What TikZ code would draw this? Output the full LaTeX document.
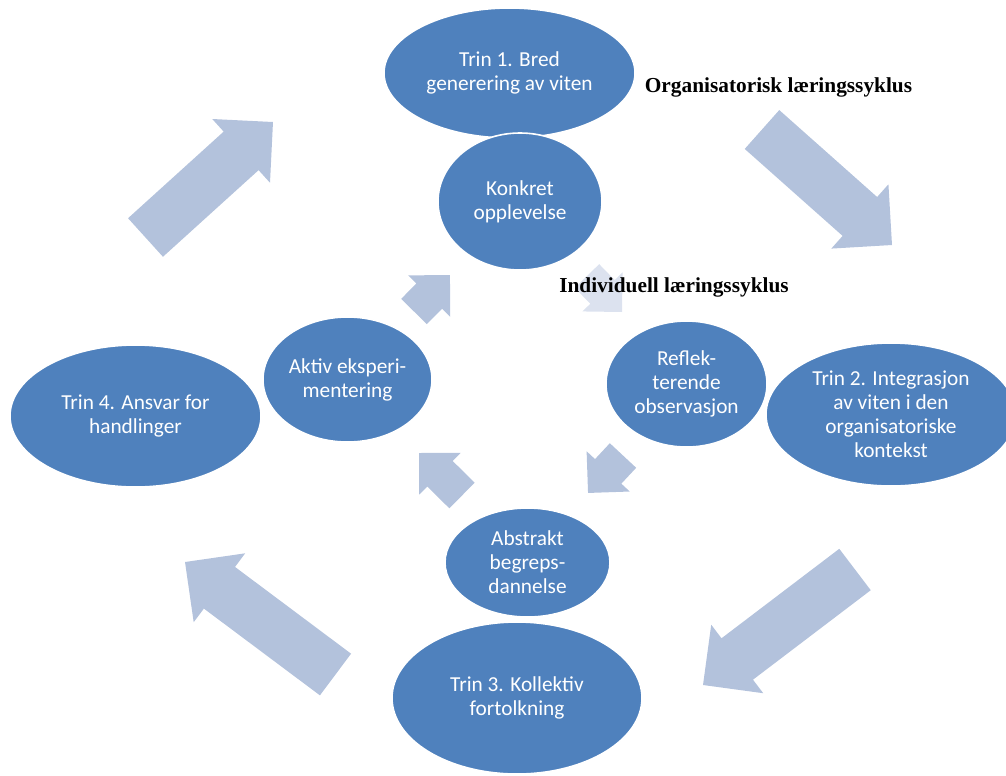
\documentclass[tikz,border=0pt]{standalone}
\usepackage{fontspec}
\setmainfont{Carlito}
\newfontfamily\tnr{Liberation Serif}
\usetikzlibrary{shapes.geometric}
\definecolor{ellblue}{HTML}{4F81BD}
\definecolor{arrblue}{HTML}{B3C2DC}
\definecolor{arrlight}{HTML}{DCE2EF}
% #1,#2 tail centre; #3,#4 tip; #5 half shaft width; #6 half head width (= head length); #7 style
\newcommand\blkarrow[7]{%
  \pgfmathsetmacro\blkang{atan2(-((#4)-(#2)),(#3)-(#1))}%
  \pgfmathsetmacro\blklen{veclen((#3)-(#1),(#4)-(#2))}%
  \pgfmathsetmacro\blkhb{\blklen-(#6)}%
  \fill[#7,shift={(#1,#2)},rotate=\blkang]
    (0,-#5) -- (\blkhb,-#5) -- (\blkhb,-#6) -- (\blklen,0) -- (\blkhb,#6) -- (\blkhb,#5) -- (0,#5) -- cycle;}
\begin{document}
\begin{tikzpicture}[x=0.75pt,y=-0.75pt,
  ell/.style={ellipse, fill=ellblue, draw=white, line width=1.2pt, inner sep=0pt,
    text=white, align=center, font=\fontsize{16}{18}\selectfont},
  arrfill/.style={fill=arrblue},
  arrlightfill/.style={fill=arrlight},
  cycletitle/.style={anchor=base, inner sep=0pt, font=\tnr\bfseries\fontsize{16}{18}\selectfont}]
\useasboundingbox (0,0) rectangle (1006,775);

% big arrows (organisational cycle)
\blkarrow{145.5}{237.5}{273}{122}{26}{43}{arrfill}
\blkarrow{762}{129.5}{892}{245}{26}{43}{arrfill}
\blkarrow{855}{569.5}{703}{685}{26}{43}{arrfill}
\blkarrow{335.5}{674.5}{185}{562}{26}{43}{arrfill}
% small arrows (individual cycle)
\blkarrow{414}{311.5}{450}{275}{18}{29.5}{arrfill}
\blkarrow{587}{276}{622}{312}{17}{28}{arrlightfill}
\blkarrow{623}{455.5}{588}{493}{18}{29.5}{arrfill}
\blkarrow{462}{495.5}{419}{453}{18}{29.5}{arrfill}

% ellipses
\node[ell, minimum width=188.25pt, minimum height=97.5pt] (trin1) at (509.5,73) {Trin 1. Bred\\generering av viten};
\node[ell, minimum width=123pt, minimum height=102.75pt] (konkret) at (520,201.5) {Konkret\\opplevelse};
\node[ell, minimum width=120.75pt, minimum height=94.5pt] (reflek) at (686.5,384) {Reflek-\\terende\\observasjon};
\node[ell, minimum width=187.5pt, minimum height=107.25pt] (trin2) at (891,414.5) {Trin 2. Integrasjon\\av viten i den\\organisatoriske\\kontekst};
\node[ell, minimum width=123.75pt, minimum height=81.75pt] (abstrakt) at (527.5,562.5) {Abstrakt\\begreps-\\dannelse};
\node[ell, minimum width=187.5pt, minimum height=114pt] (trin3) at (517,698) {Trin 3. Kollektiv\\fortolkning};
\node[ell, minimum width=188.25pt, minimum height=106.5pt] (trin4) at (135.5,416) {Trin 4. Ansvar for\\handlinger};
\node[ell, minimum width=126.75pt, minimum height=93.75pt] (aktiv) at (347.5,379.5) {Aktiv eksperi-\\mentering};

% titles
\node[cycletitle] (orgtitle) at (778.5,92) {Organisatorisk læringssyklus};
\node[cycletitle] (indtitle) at (674,292) {Individuell læringssyklus};
\end{tikzpicture}
\end{document}
